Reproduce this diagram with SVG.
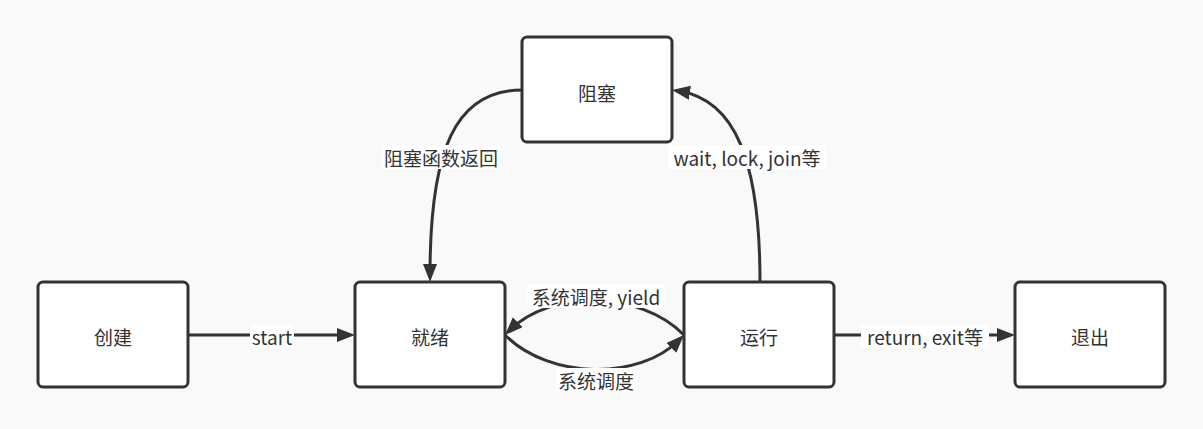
<svg xmlns="http://www.w3.org/2000/svg" width="1203" height="429" viewBox="0 0 1203 429">
<defs>
<marker id="arr" markerUnits="userSpaceOnUse" markerWidth="20" markerHeight="16" refX="11" refY="7" orient="auto">
<path d="M0,0 L18,7 L0,14 z" fill="#333"/>
</marker>
<style>
.box{fill:#fff;stroke:#333;stroke-width:3}
.t{font-family:"Microsoft YaHei","Noto Sans CJK SC","Noto Sans",sans-serif;font-size:19px;fill:#333;text-anchor:middle;dominant-baseline:central}
.e{fill:none;stroke:#333;stroke-width:3}
.lb{fill:#fff}
</style>
</defs>
<rect width="1203" height="429" fill="#f9f9f9"/>
<g id="connectors">
<path class="e" d="M188,335 L348,335" marker-end="url(#arr)"/>
<path class="e" d="M834,335 L1008,335" marker-end="url(#arr)"/>
<path class="e" d="M522,90 C455,90 430,150 430,275" marker-end="url(#arr)"/>
<path class="e" d="M760,282 C760,160 735,100 679,91" marker-end="url(#arr)"/>
<path class="e" d="M684,335 C640,290 550,290 510,330" marker-end="url(#arr)"/>
<path class="e" d="M505,335 C550,380 640,380 679,340" marker-end="url(#arr)"/>
<g id="labels">
<rect class="lb" x="250" y="325" width="44" height="23"/>
<text class="t" x="272" y="336">start</text>
<rect class="lb" x="861" y="325" width="128" height="23"/>
<text class="t" x="925" y="336">return, exit等</text>
<rect class="lb" x="382" y="145" width="118" height="24"/>
<text class="t" x="441" y="157">阻塞函数返回</text>
<rect class="lb" x="668" y="145" width="158" height="24"/>
<text class="t" x="747" y="157">wait, lock, join等</text>
<rect class="lb" x="527" y="284" width="138" height="24"/>
<text class="t" x="596" y="296">系统调度, yield</text>
<rect class="lb" x="556" y="368" width="81" height="24"/>
<text class="t" x="596" y="380">系统调度</text>
</g>
</g>
<g id="node-create"><rect class="box" x="38" y="282" width="150" height="105" rx="5"/><text class="t" x="113" y="336">创建</text></g>
<g id="node-ready"><rect class="box" x="355" y="282" width="150" height="105" rx="5"/><text class="t" x="430" y="336">就绪</text></g>
<g id="node-running"><rect class="box" x="684" y="282" width="150" height="105" rx="5"/><text class="t" x="759" y="336">运行</text></g>
<g id="node-exit"><rect class="box" x="1015" y="282" width="150" height="105" rx="5"/><text class="t" x="1090" y="336">退出</text></g>
<g id="node-blocked"><rect class="box" x="522" y="37" width="150" height="105" rx="5"/><text class="t" x="597" y="92">阻塞</text></g>
</svg>
